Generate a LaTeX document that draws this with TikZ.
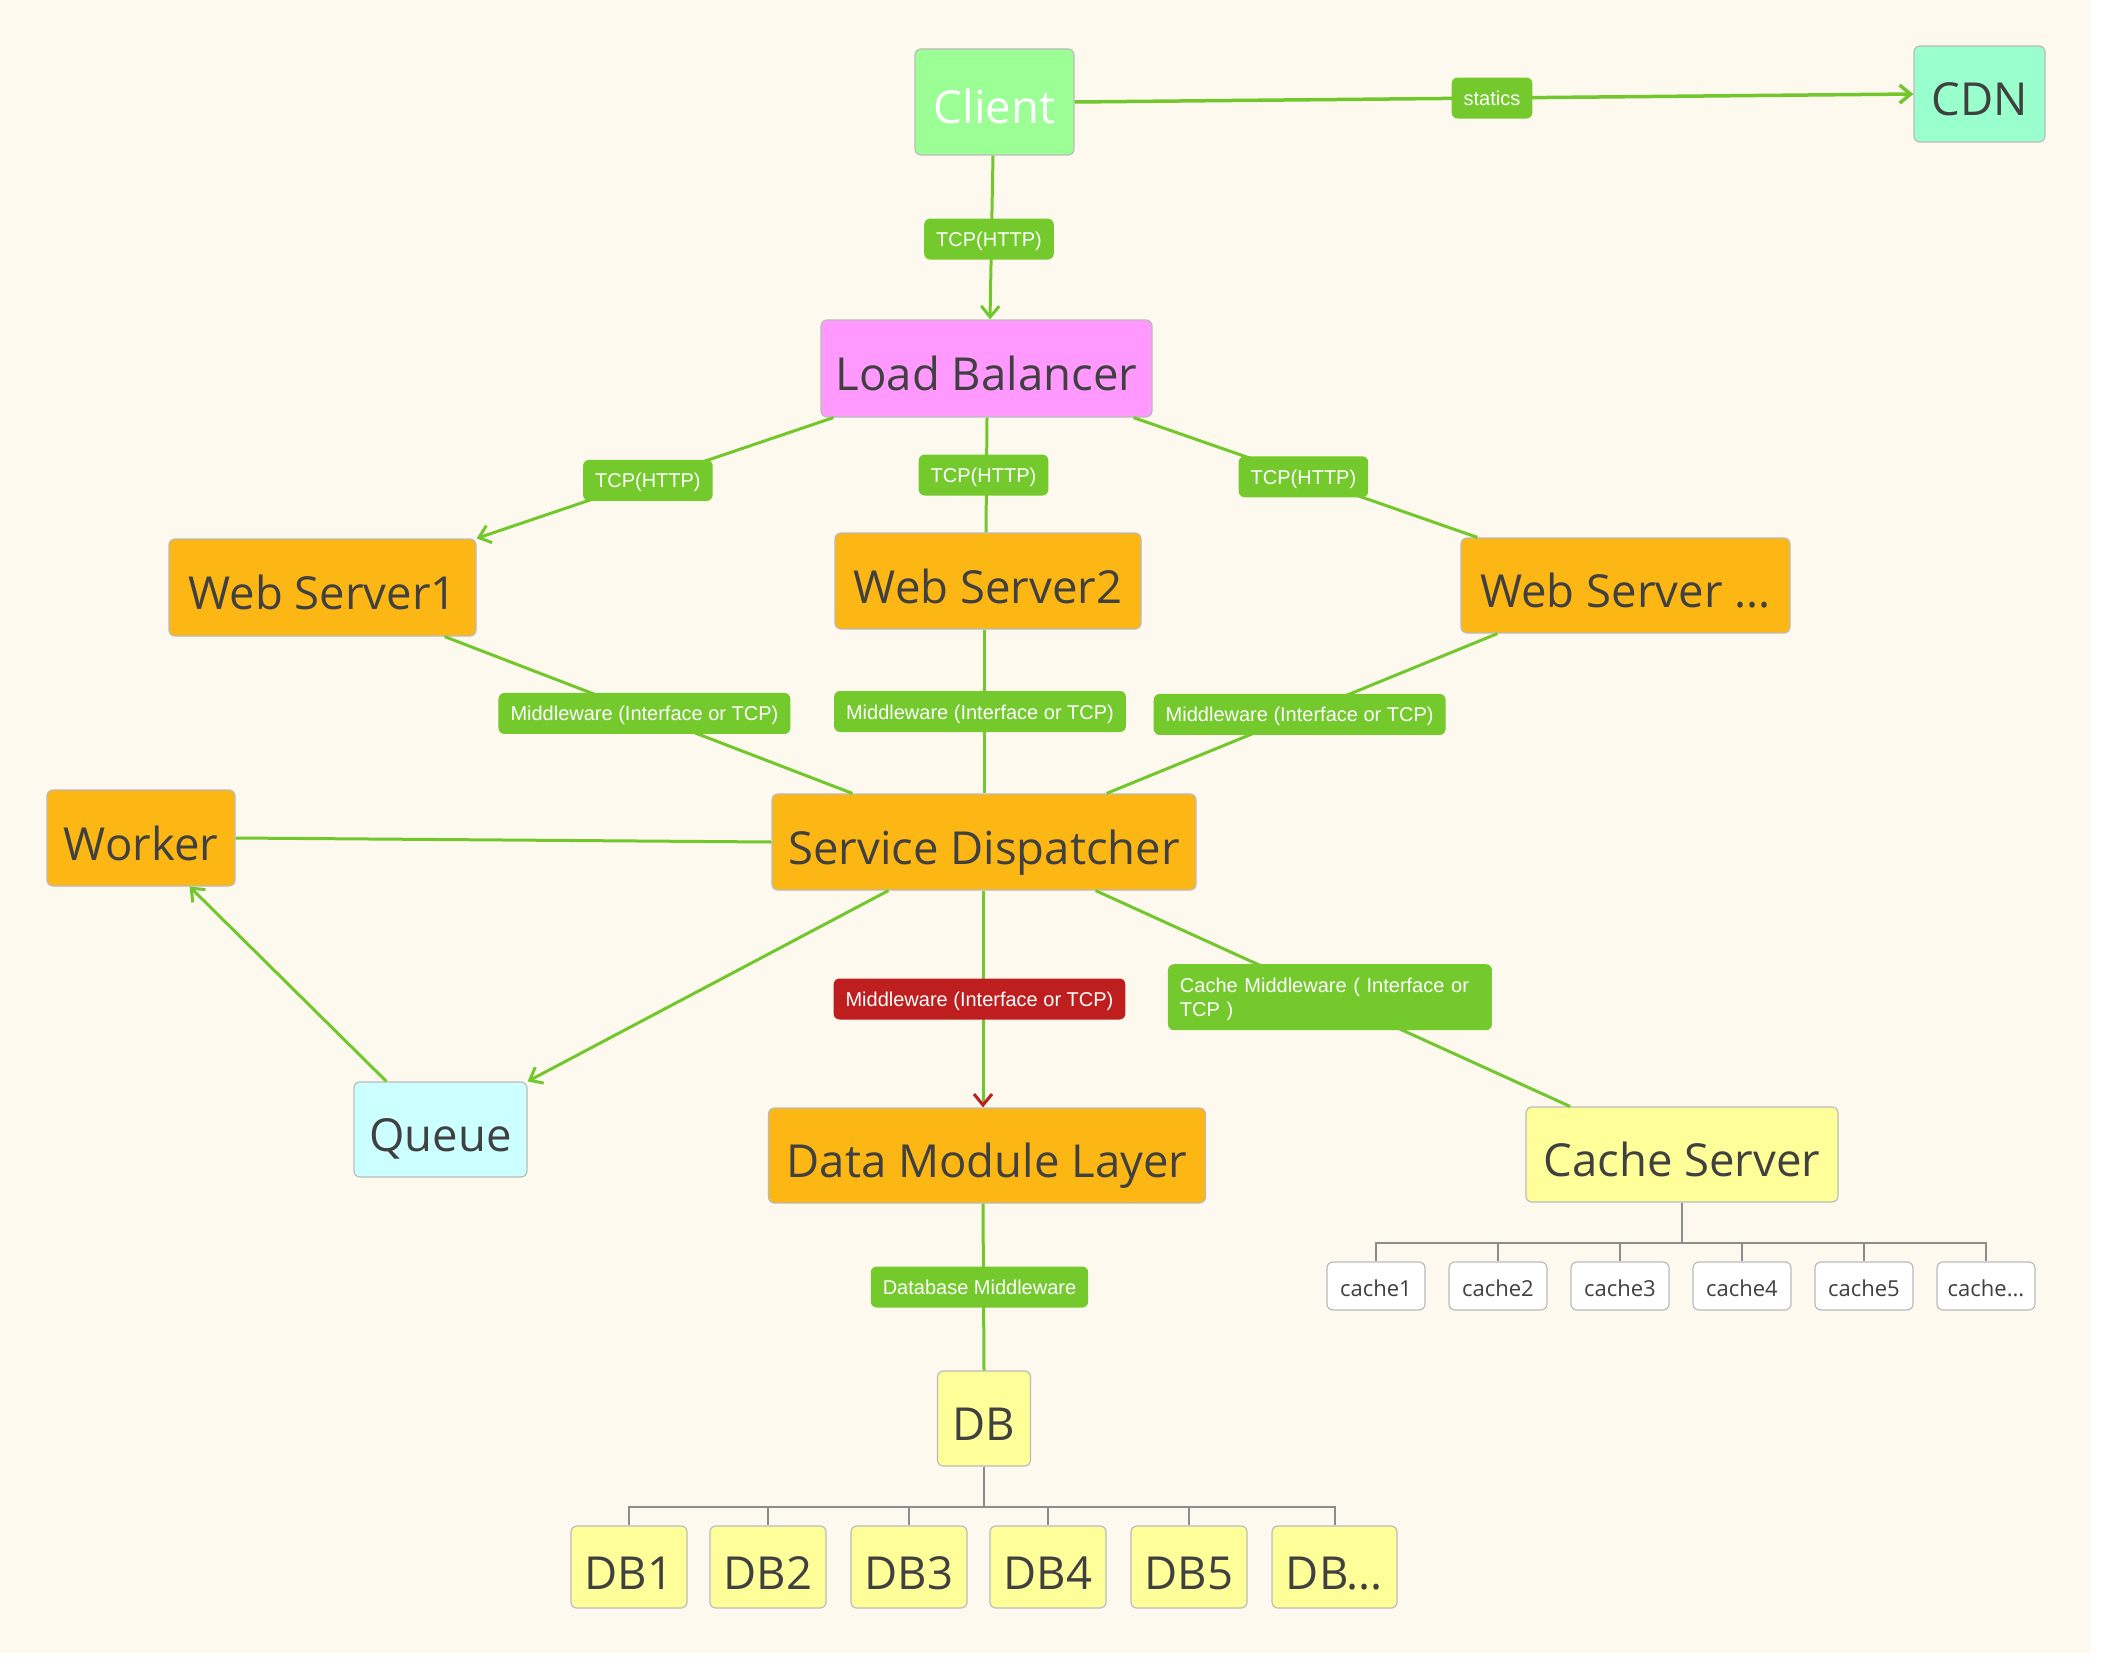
\documentclass[tikz,border=0pt]{standalone}
\usepackage{fontspec}
\setmainfont{Open Sans}
\newfontfamily\lblfont{Liberation Sans}
\usetikzlibrary{arrows.meta}
\definecolor{bgc}{HTML}{FEF9EE}
\definecolor{clientc}{HTML}{9BFF95}
\definecolor{cdnc}{HTML}{99FFCC}
\definecolor{lbc}{HTML}{FF99FF}
\definecolor{orangec}{HTML}{FDB714}
\definecolor{queuec}{HTML}{CCFFFF}
\definecolor{yellowc}{HTML}{FFFF99}
\definecolor{lblg}{HTML}{74C92D}
\definecolor{lng}{HTML}{72C72C}
\definecolor{redc}{HTML}{BE1E1E}
\definecolor{txtc}{HTML}{404040}
\definecolor{bordc}{HTML}{BBBBBB}
\definecolor{treec}{HTML}{8C8C8C}
\begin{document}
\begin{tikzpicture}[x=1pt,y=-1pt,
  nd/.style={draw=bordc, line width=1.2pt, rounded corners=6pt, inner sep=0pt,
    text=txtc, font=\fontsize{45.5}{54}\selectfont, text height=44pt, text depth=0pt},
  small/.style={draw=bordc, line width=1.2pt, rounded corners=6pt, inner sep=0pt,
    fill=white, text=txtc, font=\fontsize{22}{26}\selectfont,
    text height=21pt, text depth=0pt, minimum width=98pt, minimum height=48pt},
  dbc/.style={nd, fill=yellowc, minimum width=116pt, minimum height=82pt},
  lbl/.style={fill=lblg, rounded corners=6pt, inner xsep=12pt, inner ysep=0pt,
    minimum height=41pt, text=white, font=\lblfont\fontsize{20}{24}\selectfont,
    text height=15pt, text depth=0pt},
  ln/.style={draw=lng, line width=3pt},
  arr/.style={ln, -{Straight Barb[length=11pt,width=18pt]}},
  redarr/.style={ln, -{Straight Barb[length=11pt,width=18pt,color=redc]}},
  tree/.style={draw=treec, line width=2pt}]

\fill[white] (0,0) rectangle (2104,1664);
\fill[bgc] (0,0) rectangle (2090,1653);

% main nodes
\node[nd, fill=clientc, text=white, minimum width=159pt, minimum height=106pt] (client) at (994.5,102) {Client};
\node[nd, fill=cdnc, minimum width=131pt, minimum height=96pt] (cdn) at (1979.5,94) {CDN};
\node[nd, fill=lbc, minimum width=331pt, minimum height=97pt] (lb) at (986.5,368.5) {Load Balancer};
\node[nd, fill=orangec, minimum width=307pt, minimum height=97pt] (ws1) at (322.5,587.5) {Web Server1};
\node[nd, fill=orangec, minimum width=306pt, minimum height=96pt] (ws2) at (988,581) {Web Server2};
\node[nd, fill=orangec, minimum width=329pt, minimum height=95pt] (ws3) at (1625.5,585.5) {Web Server ...};
\node[nd, fill=orangec, minimum width=188pt, minimum height=96pt] (worker) at (141,838) {Worker};
\node[nd, fill=orangec, minimum width=424pt, minimum height=96pt] (sd) at (984,842) {Service Dispatcher};
\node[nd, fill=queuec, minimum width=173pt, minimum height=95pt] (queue) at (440.5,1129.5) {Queue};
\node[nd, fill=orangec, minimum width=437pt, minimum height=95pt] (dml) at (987,1155.5) {Data Module Layer};
\node[nd, fill=yellowc, minimum width=312pt, minimum height=95pt] (cs) at (1682,1154.5) {Cache Server};
\node[nd, fill=yellowc, minimum width=93pt, minimum height=95pt] (db) at (984,1418.5) {DB};

% cache children
\node[small] (c1) at (1376,1286) {cache1};
\node[small] (c2) at (1498,1286) {cache2};
\node[small] (c3) at (1620,1286) {cache3};
\node[small] (c4) at (1742,1286) {cache4};
\node[small] (c5) at (1864,1286) {cache5};
\node[small] (c6) at (1986,1286) {cache...};

% db children
\node[dbc] (d1) at (629,1567) {DB1};
\node[dbc] (d2) at (768,1567) {DB2};
\node[dbc] (d3) at (909,1567) {DB3};
\node[dbc] (d4) at (1048,1567) {DB4};
\node[dbc] (d5) at (1189,1567) {DB5};
\node[dbc, minimum width=125pt] (d6) at (1334.5,1567) {DB...};

% trees
\foreach \c in {c1,c2,c3,c4,c5,c6}
  \draw[tree] (cs.south) -- ++(0,40) -| (\c.north);
\foreach \d in {d1,d2,d3,d4,d5,d6}
  \draw[tree] (db.south) -- ++(0,40) -| (\d.north);

% connectors
\draw[arr, line width=3.5pt] (client.east) -- node[lbl, pos=0.4976] (lstat) {statics} (cdn.west);
\draw[arr] ([xshift=-1.5pt]client.south) -- node[lbl, pos=0.51, xshift=-2.5pt] (ltcp0) {TCP(HTTP)} ([xshift=3.5pt]lb.north);
\draw[arr] ([xshift=13pt]lb.south west) -- node[lbl, pos=0.52] (ltcp1) {TCP(HTTP)} (ws1.north east);
\draw[ln] ([xshift=0.5pt]lb.south) -- node[lbl, pos=0.5, xshift=-3pt] (ltcp2) {TCP(HTTP)} ([xshift=-2pt]ws2.north);
\draw[ln] ([xshift=-19pt]lb.south east) -- node[lbl, pos=0.494] (ltcp3) {TCP(HTTP)} ([xshift=17pt]ws3.north west);
\draw[ln] ([xshift=-32pt]ws1.south east) -- node[lbl, pos=0.49] (lmw1) {Middleware (Interface or TCP)} ([xshift=81pt]sd.north west);
\draw[ln] ([xshift=-4pt]ws2.south) -- node[lbl, pos=0.5, xshift=-4pt] (lmw2) {Middleware (Interface or TCP)} (sd.north);
\draw[ln] ([xshift=37pt]ws3.south west) -- node[lbl, pos=0.506] (lmw3) {Middleware (Interface or TCP)} ([xshift=-90pt]sd.north east);
\draw[ln] (sd.west) -- (worker.east);
\draw[arr] ([xshift=33pt]queue.north west) -- ([xshift=-46pt]worker.south east);
\draw[arr] ([xshift=117pt]sd.south west) -- (queue.north east);
\draw[redarr] ([xshift=-1pt]sd.south) -- node[lbl, fill=redc, pos=0.5, xshift=-3.5pt] (lmwr) {Middleware (Interface or TCP)} ([xshift=-4pt]dml.north);
\draw[ln] ([xshift=-101pt]sd.south east) -- node[lbl, pos=0.494, text width=300pt, align=left, minimum height=66pt, text height=15pt, text depth=25pt] (lcache) {Cache Middleware ( Interface or\\TCP )} ([xshift=44.6pt]cs.north west);
\draw[ln] ([xshift=-4pt]dml.south) -- node[lbl, pos=0.5, xshift=-4pt] (ldbm) {Database Middleware} (db.north);
\end{tikzpicture}
\end{document}
